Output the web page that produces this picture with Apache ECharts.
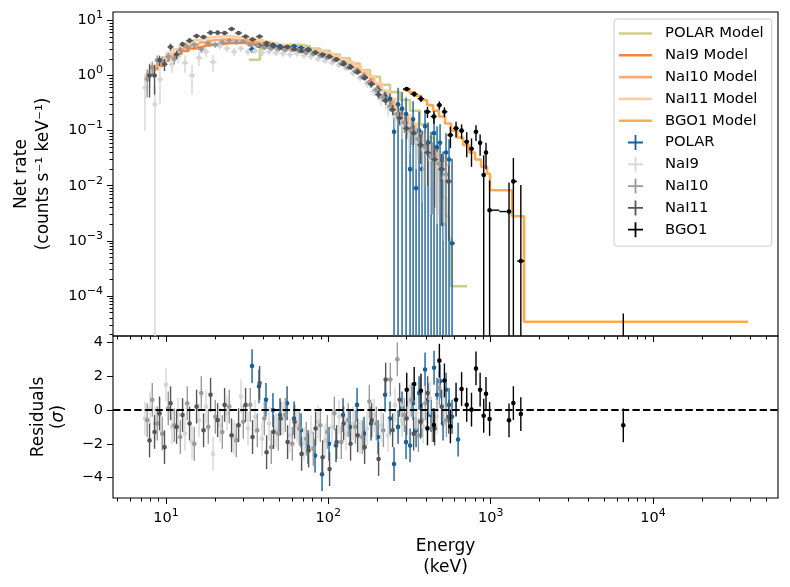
<!DOCTYPE html>
<html style="height: 100%; margin: 0;">
<head>
<meta charset="utf-8" />
<title></title>
<script src="https://cdn.jsdelivr.net/npm/echarts@6.0.0/dist/echarts.min.js" type="text/javascript" charset="utf-8"></script>
</head>
<body style="height: 100%; margin: 0; background: #fff;">
<div id="main" style="width: 790px; height: 587px; padding: 0px; margin: 0px;"></div>
<script type="text/javascript">
var FONT = 'DejaVu Sans';

// axis ranges
var X_MIN = 4.716, X_MAX = 58880;
var Y_MIN = 1.877e-5, Y_MAX = 14.21;
var RES_MIN = -5.21, RES_MAX = 4.38;
var RES_ERR = 1;

// tick values
var xMajor = [10, 100, 1000, 10000];
var xMinor = [5, 6, 7, 8, 9, 20, 30, 40, 50, 60, 70, 80, 90, 200, 300, 400, 500, 600, 700, 800, 900,
  2000, 3000, 4000, 5000, 6000, 7000, 8000, 9000, 20000, 30000, 40000, 50000];
var yMajor = [1e-4, 1e-3, 1e-2, 1e-1, 1, 10];
var yMinor = [2e-5, 3e-5, 4e-5, 5e-5, 6e-5, 7e-5, 8e-5, 9e-5,
  2e-4, 3e-4, 4e-4, 5e-4, 6e-4, 7e-4, 8e-4, 9e-4,
  2e-3, 3e-3, 4e-3, 5e-3, 6e-3, 7e-3, 8e-3, 9e-3,
  0.02, 0.03, 0.04, 0.05, 0.06, 0.07, 0.08, 0.09,
  0.2, 0.3, 0.4, 0.5, 0.6, 0.7, 0.8, 0.9,
  2, 3, 4, 5, 6, 7, 8, 9];
var resTicks = [-4, -2, 0, 2, 4];

// NaI9
var nai9E = [7.42, 7.97, 8.55, 9.18, 10.0, 10.89, 11.86, 13.09, 14.46, 15.97, 17.64, 19.49, 21.52, 23.76, 26.24, 28.98, 32.00, 35.35, 39.04, 43.11, 47.62, 52.59, 58.07, 64.13, 70.84, 78.23, 86.39, 95.43, 105.4, 116.4, 128.5, 142.0, 156.8, 173.2, 191.2, 211.3, 233.3, 257.6, 284.5, 314.2, 347.1, 383.3, 423.3, 467.5, 516.5];
var nai9Rate = [0.6, 1.15, 0.3, 0.85, 2.1, 1.6, 2.2, 1.7, 1.0, 2.1, 2.7, 1.75, 3.45, 3.1, 2.7, 3.1, 2.7, 2.8, 2.6, 2.7, 2.6, 2.5, 2.4, 2.5, 2.3, 2.2, 2.0, 1.85, 1.7, 1.55, 1.35, 1.1, 0.9, 0.72, 0.52, 0.38, 0.26, 0.18, 0.13, 0.09, 0.065, 0.045, 0.03, 0.022, 0.014];
var nai9Err = [0.5, 0.55, 0.35, 0.55, 0.6, 0.5, 0.55, 0.6, 0.55, 0.6, 0.55, 0.6, 0.5, 0.45, 0.45, 0.4, 0.4, 0.38, 0.36, 0.35, 0.34, 0.33, 0.32, 0.3, 0.28, 0.26, 0.24, 0.22, 0.2, 0.18, 0.16, 0.14, 0.13, 0.12, 0.1, 0.09, 0.08, 0.07, 0.06, 0.05, 0.045, 0.04, 0.027, 0.02, 0.013];
var nai9Res = [-0.5, 0.1, -0.8, -0.3, 1.5, -1.0, -0.3, -1.4, -1.9, -0.6, 0.2, -2.6, -0.9, -0.2, -1.6, 0.8, -1.1, -0.4, -1.7, -0.8, -1.2, -0.5, -1.5, -0.9, -2.0, -1.3, -0.7, -1.8, -1.0, -0.4, -1.4, -0.8, -1.6, -1.1, -0.3, -0.9, -1.5, 0.3, -0.6, 0.5, -0.2, -1.0, 0.7, -0.4, 0.1];
var nai9ModelR = [0.92, 1.1, 1.3, 1.5, 1.85, 2.1, 2.45, 2.8, 3.1, 3.3, 3.5, 3.65, 3.75, 3.85, 3.9, 3.9, 3.85, 3.75, 3.6, 3.5, 3.4, 3.3, 3.2, 3.1, 3.0, 2.85, 2.7, 2.5, 2.25, 2.0, 1.75, 1.48, 1.2, 0.95, 0.72, 0.53, 0.38, 0.27, 0.19, 0.135, 0.095, 0.066, 0.047, 0.034, 0.024];

// NaI10
var nai10E = [7.66, 8.23, 8.83, 9.48, 10.33, 11.25, 12.25, 13.52, 14.94, 16.50, 18.22, 20.13, 22.23, 24.54, 27.11, 29.94, 33.06, 36.52, 40.33, 44.53, 49.19, 54.33, 59.99, 66.25, 73.18, 80.81, 89.24, 98.58, 108.9, 120.2, 132.7, 146.7, 162.0, 178.9, 197.5, 218.3, 241.0, 266.1, 293.9, 324.6, 358.6, 396.0, 437.3, 482.9, 533.5];
var nai10Rate = [0.85, 1.4, 1.9, 1.8, 2.2, 2.0, 2.9, 3.3, 3.6, 3.0, 3.8, 3.6, 4.0, 4.3, 4.0, 4.1, 3.6, 3.5, 3.2, 3.1, 3.0, 2.9, 2.9, 2.8, 2.6, 2.45, 2.3, 2.1, 1.9, 1.65, 1.4, 1.2, 0.95, 0.75, 0.55, 0.4, 0.28, 0.2, 0.14, 0.1, 0.07, 0.05, 0.032, 0.025, 0.016];
var nai10Err = [0.45, 0.4, 0.4, 0.4, 0.4, 0.4, 0.4, 0.4, 0.4, 0.4, 0.4, 0.4, 0.4, 0.4, 0.35, 0.35, 0.3, 0.3, 0.25, 0.24, 0.22, 0.2, 0.2, 0.19, 0.18, 0.17, 0.16, 0.15, 0.14, 0.13, 0.12, 0.11, 0.1, 0.09, 0.08, 0.07, 0.06, 0.055, 0.05, 0.045, 0.04, 0.04, 0.029, 0.022, 0.014];
var nai10Res = [-0.6, 0.6, -0.8, -1.4, 0.1, -0.9, -1.6, 0.4, -2.0, 1.0, -1.0, -0.4, -1.3, 0.2, -1.8, -0.7, 0.3, -1.2, -0.5, -2.2, -1.4, -0.3, -2.0, -1.1, -1.7, -2.3, -0.9, -1.3, -0.2, -1.9, -0.6, -1.0, -1.6, 0.5, -0.8, -1.2, 1.8, 3.0, -0.3, 0.6, -1.5, 0.4, -0.9, 1.3, -0.6];
var nai10ModelR = [1.05, 1.25, 1.5, 1.75, 2.1, 2.5, 2.9, 3.3, 3.7, 4.0, 4.25, 4.4, 4.5, 4.5, 4.45, 4.35, 4.2, 4.0, 3.8, 3.6, 3.45, 3.3, 3.2, 3.1, 3.0, 2.85, 2.7, 2.5, 2.25, 2.0, 1.75, 1.48, 1.2, 0.95, 0.72, 0.53, 0.38, 0.27, 0.19, 0.135, 0.095, 0.066, 0.047, 0.034, 0.024];

// NaI11
var nai11E = [7.92, 8.50, 9.12, 9.79, 10.67, 11.62, 12.65, 13.97, 15.43, 17.04, 18.82, 20.80, 22.96, 25.35, 28.00, 30.92, 34.14, 37.72, 41.66, 46.00, 50.81, 56.11, 61.96, 68.43, 75.59, 83.47, 92.18, 101.8, 112.5, 124.2, 137.1, 151.5, 167.3, 184.8, 204.0, 225.5, 248.9, 274.9, 303.6, 335.3, 370.4, 409.0, 451.7, 498.8, 551.1];
var nai11Rate = [1.0, 1.0, 1.9, 1.6, 3.3, 2.4, 3.7, 4.3, 5.2, 5.0, 6.0, 6.0, 5.9, 7.0, 5.9, 5.1, 4.5, 5.1, 3.9, 3.4, 3.2, 3.3, 3.0, 2.8, 2.9, 2.6, 2.4, 2.2, 1.95, 1.6, 1.4, 1.15, 0.9, 0.7, 0.45, 0.35, 0.24, 0.17, 0.11, 0.09, 0.055, 0.04, 0.03, 0.02, 0.012];
var nai11Err = [0.6, 0.55, 0.4, 0.4, 0.5, 0.4, 0.4, 0.4, 0.45, 0.4, 0.45, 0.45, 0.4, 0.45, 0.4, 0.35, 0.3, 0.3, 0.25, 0.22, 0.2, 0.2, 0.18, 0.17, 0.17, 0.16, 0.15, 0.14, 0.13, 0.12, 0.11, 0.1, 0.09, 0.08, 0.07, 0.06, 0.05, 0.045, 0.04, 0.035, 0.03, 0.03, 0.026, 0.018, 0.011];
var nai11Res = [-1.8, -1.3, -0.2, -2.2, 0.4, -1.0, -0.3, -0.8, 0.2, -1.2, 0.9, -0.6, 0.3, -1.5, -0.9, 0.3, -1.6, 1.6, -2.5, -1.3, -0.5, -1.9, -0.7, -2.6, -2.4, -1.1, -2.8, -3.5, -1.9, -0.8, -2.0, -1.5, -2.2, -0.6, -2.9, 1.8, -1.2, 0.6, -0.5, -1.4, -0.7, 1.0, -1.1, 0.2, -0.4];
var nai11ModelR = [1.3, 1.55, 1.85, 2.15, 2.55, 3.0, 3.5, 3.95, 4.35, 4.7, 4.95, 5.1, 5.15, 5.1, 5.0, 4.85, 4.6, 4.35, 4.1, 3.85, 3.6, 3.4, 3.25, 3.1, 3.0, 2.85, 2.7, 2.5, 2.25, 2.0, 1.75, 1.48, 1.2, 0.95, 0.72, 0.53, 0.38, 0.27, 0.19, 0.135, 0.095, 0.066, 0.047, 0.034, 0.024];

// POLAR
var polarE = [33.9, 37.4, 41.3, 45.6, 50.4, 55.7, 61.5, 67.9, 75.0, 82.8, 91.5, 101.0, 111.5, 123.2, 136.1, 150.3, 166.0, 183.3, 202.5, 223.6, 239.9, 254.0, 268.9, 284.5, 301.2, 318.8, 332.7, 347.1, 362.2, 377.9, 394.3, 411.4, 429.3, 448.0, 467.5, 487.8, 508.9, 531.0, 554.1, 578.2, 630];
var polarRate = [3.0, 3.5, 3.5, 3.6, 3.4, 3.3, 3.4, 3.2, 3.0, 2.6, 2.3, 2.2, 1.95, 1.7, 1.45, 1.2, 0.95, 0.7, 0.55, 0.42, 0.38, 0.095, 0.3, 0.25, 0.2, 0.02, 0.16, 0.009, 0.1, 0.02, 0.12, 0.06, 0.035, 0.09, 0.05, 0.06, 0.002, 0.04, 0.03, 0.0009, -0.0002];
var polarErr = [0.4, 0.3, 0.28, 0.25, 0.22, 0.2, 0.2, 0.2, 0.19, 0.18, 0.17, 0.16, 0.15, 0.14, 0.13, 0.12, 0.11, 0.1, 0.09, 0.09, 0.09, 0.12, 0.3, 0.25, 0.2, 0.1, 0.18, 0.1, 0.12, 0.08, 0.12, 0.08, 0.06, 0.09, 0.07, 0.07, 0.04, 0.05, 0.04, 0.03, 0.0002];
var polarRes = [2.6, 1.4, 0.6, 0.0, -0.3, 0.4, -0.5, -1.2, -2.2, -2.7, -3.8, -2.0, -2.1, -0.3, -1.0, 0.3, -1.4, -0.8, -1.6, 0.9, -0.5, -3.2, -1.0, 0.1, -1.9, -2.1, 0.4, -1.2, 1.0, -0.6, 2.4, 0.6, -0.3, 2.5, 0.9, 1.7, -0.8, 1.2, 0.3, -0.4, -1.75];
var polarModelE = [32.45, 37.94, 43.73, 50.4, 58.07, 66.92, 77.12, 88.87, 102.4, 118.0, 136.0, 156.7, 180.6, 208.1, 239.9, 276.4, 318.6, 367.1, 411.1, 447.7, 467.0, 487.5, 508.6, 530.8, 553.9, 569.9, 715.0];
var polarModelR = [1.93, 3.2, 3.5, 3.6, 3.6, 3.4, 3.1, 2.8, 2.4, 2.05, 1.65, 1.25, 0.95, 0.68, 0.5, 0.36, 0.23, 0.13, 0.075, 0.03, 0.02, 0.012, 0.006, 0.0028, 0.0011, 1.5e-4, 1.5e-4];

// BGO1
var bgoE = [304, 338, 372, 408, 447, 483, 519, 565, 612, 662, 712, 762, 812, 861, 906, 936, 985, 1297, 1380, 1534, 6560];
var bgoRate = [0.57, 0.46, 0.38, 0.22, 0.18, 0.29, 0.22, 0.083, 0.11, 0.10, 0.063, 0.047, 0.095, 0.060, 0.0157, 0.040, 0.0036, 0.0034, 0.012, 0.00043, -0.000107];
var bgoErr = [0.05, 0.05, 0.05, 0.05, 0.045, 0.05, 0.045, 0.035, 0.035, 0.03, 0.03, 0.025, 0.03, 0.025, 0.02, 0.02, 0.0089, 0.008, 0.02, 0.0099, 0.000155];
var bgoRes = [1.2, 1.54, 1.14, -1.09, -0.89, 2.92, 1.75, -0.97, 0.61, 1.24, 0.31, 0.02, 2.46, 1.2, -0.34, 0.96, -0.53, -0.61, 0.41, -0.24, -0.91];
var bgoModelE = [288.6, 314.2, 342, 372.5, 405.6, 441.6, 480.9, 523.6, 570.2, 620.9, 676, 736.1, 801.5, 872.7, 950, 991.5, 1355, 1606, 38500];
var bgoModelR = [0.55, 0.50, 0.43, 0.36, 0.29, 0.23, 0.18, 0.135, 0.10, 0.075, 0.055, 0.04, 0.03, 0.022, 0.0165, 0.0083, 0.0028, 3.4e-5, 3.4e-5];

var C_POLAR = '#17609a', C_NAI9 = '#d6d6d6', C_NAI10 = '#9a9a9a', C_NAI11 = '#555555', C_BGO = '#000000';
var C_POLAR_M = '#cfcf85', C_NAI9_M = '#f3843f', C_NAI10_M = '#f9ab72', C_NAI11_M = '#fdcfa3', C_BGO_M = '#fbab4e';

var LINE_ICON = 'path://M0,0h33v2.6h-33z';
var PLUS_ICON = 'path://M6.6,0h1.8v6.6h6.6v1.8h-6.6v6.6h-1.8v-6.6h-6.6v-1.8h6.6z';

function zip(a, b) {
  return a.map(function (v, i) { return [v, b[i]]; });
}

// bin half widths from the neighbouring energies (geometric midpoints);
// an isolated point far from its neighbour gets a mirrored bin instead
function topData(e, r, s) {
  var out = [];
  for (var i = 0; i < e.length; i++) {
    var prev = i > 0 ? e[i - 1] : e[i] * e[i] / e[i + 1];
    var next = i < e.length - 1 ? e[i + 1] : e[i] * e[i] / e[i - 1];
    if (e[i] / prev > 2) prev = e[i] * e[i] / next;
    if (next / e[i] > 2) next = e[i] * e[i] / prev;
    out.push([e[i], r[i], s[i], Math.sqrt(prev * e[i]), Math.sqrt(e[i] * next)]);
  }
  return out;
}

function renderTop(params, api) {
  var e = api.value(0), r = api.value(1), s = api.value(2);
  var color = api.visual('color');
  var hi = r + s;
  if (!(hi > 0)) return null;
  var lo = Math.max(r - s, Y_MIN / 100);
  var p1 = api.coord([e, hi]), p2 = api.coord([e, lo]);
  var kids = [{
    type: 'line', shape: { x1: p1[0], y1: p1[1], x2: p2[0], y2: p2[1] },
    style: { stroke: color, lineWidth: 1.4 }
  }];
  if (r > 0) {
    var c = api.coord([e, r]);
    var a = api.coord([api.value(3), r]), b = api.coord([api.value(4), r]);
    kids.push({ type: 'line', shape: { x1: a[0], y1: c[1], x2: b[0], y2: c[1] }, style: { stroke: color, lineWidth: 1.4 } });
    kids.push({ type: 'circle', shape: { cx: c[0], cy: c[1], r: 2.3 }, style: { fill: color } });
  }
  return { type: 'group', children: kids };
}

function renderRes(params, api) {
  var e = api.value(0), v = api.value(1);
  var color = api.visual('color');
  var p1 = api.coord([e, v + RES_ERR]), p2 = api.coord([e, v - RES_ERR]), c = api.coord([e, v]);
  return {
    type: 'group', children: [
      { type: 'line', shape: { x1: p1[0], y1: p1[1], x2: p2[0], y2: p2[1] }, style: { stroke: color, lineWidth: 1.4 } },
      { type: 'circle', shape: { cx: c[0], cy: c[1], r: 2.3 }, style: { fill: color } }
    ]
  };
}

function modelSeries(name, color, step, e, r) {
  return {
    name: name, type: 'line', step: step, data: zip(e, r),
    xAxisIndex: 0, yAxisIndex: 0, showSymbol: false, symbol: 'none',
    lineStyle: { color: color, width: 2.6 }, itemStyle: { color: color },
    z: 2, silent: true
  };
}

function dataSeries(name, color, e, r, s) {
  return {
    name: name, type: 'custom', renderItem: renderTop, data: topData(e, r, s),
    dimensions: ['e', 'r', 's', 'lo', 'hi'], encode: { x: 0, y: 1 },
    xAxisIndex: 0, yAxisIndex: 0, itemStyle: { color: color }, clip: true, z: 3, silent: true
  };
}

function resSeries(name, color, e, v) {
  return {
    name: name, type: 'custom', renderItem: renderRes, data: zip(e, v),
    encode: { x: 0, y: 1 },
    xAxisIndex: 2, yAxisIndex: 2, itemStyle: { color: color }, clip: true, z: 3, silent: true
  };
}

function powLabel(v) {
  var p = Math.round(Math.log(v) / Math.LN10);
  return '{b|10}{s|' + String(p).replace('-', '\u2212') + '}';
}

var labelRich = {
  b: { fontFamily: FONT, fontSize: 14.5, color: '#000', lineHeight: 21 },
  s: { fontFamily: FONT, fontSize: 11, color: '#000', lineHeight: 10, verticalAlign: 'top' }
};

var tickStyle = { color: '#000', width: 1 };

function logXAxis(grid, ticks, len, labels) {
  return {
    type: 'log', gridIndex: grid, min: X_MIN, max: X_MAX, position: 'bottom',
    axisLine: { show: false, onZero: false },
    axisTick: { show: true, length: len, lineStyle: tickStyle, customValues: ticks },
    axisLabel: labels ? { show: true, customValues: ticks, formatter: powLabel, rich: labelRich, margin: 10 } : { show: false, customValues: ticks },
    splitLine: { show: false }, minorTick: { show: false }
  };
}

var myChart = echarts.init(document.getElementById('main'), null, { renderer: 'canvas' });

var xAxes = [logXAxis(0, xMajor, 6, false), logXAxis(0, xMinor, 3.5, false), logXAxis(1, xMajor, 6, true), logXAxis(1, xMinor, 3.5, false)];
xAxes[2].name = 'Energy\n(keV)';
xAxes[2].nameLocation = 'middle';
xAxes[2].nameGap = 38;
xAxes[2].nameTextStyle = { fontFamily: FONT, fontSize: 17, color: '#000', lineHeight: 21 };

var yAxes = [
  {
    type: 'log', gridIndex: 0, min: Y_MIN, max: Y_MAX, position: 'left',
    axisLine: { show: false, onZero: false },
    axisTick: { show: true, length: 6, lineStyle: tickStyle, customValues: yMajor },
    axisLabel: { show: true, customValues: yMajor, formatter: powLabel, rich: labelRich, margin: 10 },
    splitLine: { show: false }, minorTick: { show: false },
    name: 'Net rate\n(counts s\u207B\u00B9 keV\u207B\u00B9)', nameLocation: 'middle', nameGap: 58,
    nameTextStyle: { fontFamily: FONT, fontSize: 17, color: '#000', lineHeight: 22 }
  },
  {
    type: 'log', gridIndex: 0, min: Y_MIN, max: Y_MAX, position: 'left',
    axisLine: { show: false, onZero: false },
    axisTick: { show: true, length: 3.5, lineStyle: tickStyle, customValues: yMinor },
    axisLabel: { show: false, customValues: yMinor },
    splitLine: { show: false }, minorTick: { show: false }
  },
  {
    type: 'value', gridIndex: 1, min: RES_MIN, max: RES_MAX, position: 'left',
    axisLine: { show: false, onZero: false },
    axisTick: { show: true, length: 6, lineStyle: tickStyle, customValues: resTicks },
    axisLabel: {
      show: true, customValues: resTicks, margin: 10, fontFamily: FONT, fontSize: 14.5, color: '#000',
      formatter: function (v) { return String(v).replace('-', '\u2212'); }
    },
    splitLine: { show: false },
    name: '{n|Residuals}\n{n|(}{i|\u03C3}{n|)}', nameLocation: 'middle', nameGap: 44,
    nameTextStyle: {
      rich: {
        n: { fontFamily: FONT, fontSize: 17, color: '#000', lineHeight: 20 },
        i: { fontFamily: FONT, fontSize: 17, fontStyle: 'italic', color: '#000', lineHeight: 20 }
      }
    }
  }
];

var series = [
  modelSeries('POLAR Model', C_POLAR_M, 'end', polarModelE, polarModelR),
  modelSeries('NaI9 Model', C_NAI9_M, 'middle', nai9E, nai9ModelR),
  modelSeries('NaI10 Model', C_NAI10_M, 'middle', nai10E, nai10ModelR),
  modelSeries('NaI11 Model', C_NAI11_M, 'middle', nai11E, nai11ModelR),
  modelSeries('BGO1 Model', C_BGO_M, 'end', bgoModelE, bgoModelR),
  dataSeries('POLAR', C_POLAR, polarE, polarRate, polarErr),
  dataSeries('NaI9', C_NAI9, nai9E, nai9Rate, nai9Err),
  dataSeries('NaI10', C_NAI10, nai10E, nai10Rate, nai10Err),
  dataSeries('NaI11', C_NAI11, nai11E, nai11Rate, nai11Err),
  dataSeries('BGO1', C_BGO, bgoE, bgoRate, bgoErr),
  resSeries('POLAR', C_POLAR, polarE, polarRes),
  resSeries('NaI9', C_NAI9, nai9E, nai9Res),
  resSeries('NaI10', C_NAI10, nai10E, nai10Res),
  resSeries('NaI11', C_NAI11, nai11E, nai11Res),
  resSeries('BGO1', C_BGO, bgoE, bgoRes),
  {
    name: 'zero', type: 'line', xAxisIndex: 2, yAxisIndex: 2, data: [[X_MIN, 0], [X_MAX, 0]],
    showSymbol: false, symbol: 'none', lineStyle: { color: '#000', width: 2.2, type: [7.4, 3.2] }, z: 5, silent: true
  }
];

myChart.setOption({
  animation: false,
  backgroundColor: '#fff',
  textStyle: { fontFamily: FONT },
  grid: [
    { left: 113, top: 12, width: 665, height: 324, show: true, borderColor: '#000', borderWidth: 1.1, backgroundColor: 'transparent' },
    { left: 113, top: 336, width: 665, height: 162, show: true, borderColor: '#000', borderWidth: 1.1, backgroundColor: 'transparent' }
  ],
  legend: {
    orient: 'vertical', left: 614, top: 19, padding: [7, 8, 9, 5],
    itemWidth: 33, itemHeight: 15, itemGap: 6.8, selectedMode: false,
    backgroundColor: 'rgba(255,255,255,0.85)', borderColor: '#cccccc', borderWidth: 1, borderRadius: 3,
    textStyle: { fontFamily: FONT, fontSize: 14.8, color: '#000', padding: [0, 0, 0, 8] },
    data: [
      { name: 'POLAR Model', icon: LINE_ICON },
      { name: 'NaI9 Model', icon: LINE_ICON },
      { name: 'NaI10 Model', icon: LINE_ICON },
      { name: 'NaI11 Model', icon: LINE_ICON },
      { name: 'BGO1 Model', icon: LINE_ICON },
      { name: 'POLAR', icon: PLUS_ICON },
      { name: 'NaI9', icon: PLUS_ICON },
      { name: 'NaI10', icon: PLUS_ICON },
      { name: 'NaI11', icon: PLUS_ICON },
      { name: 'BGO1', icon: PLUS_ICON }
    ]
  },
  xAxis: xAxes,
  yAxis: yAxes,
  series: series
});

window.onresize = myChart.resize;
</script>
</body>
</html>
